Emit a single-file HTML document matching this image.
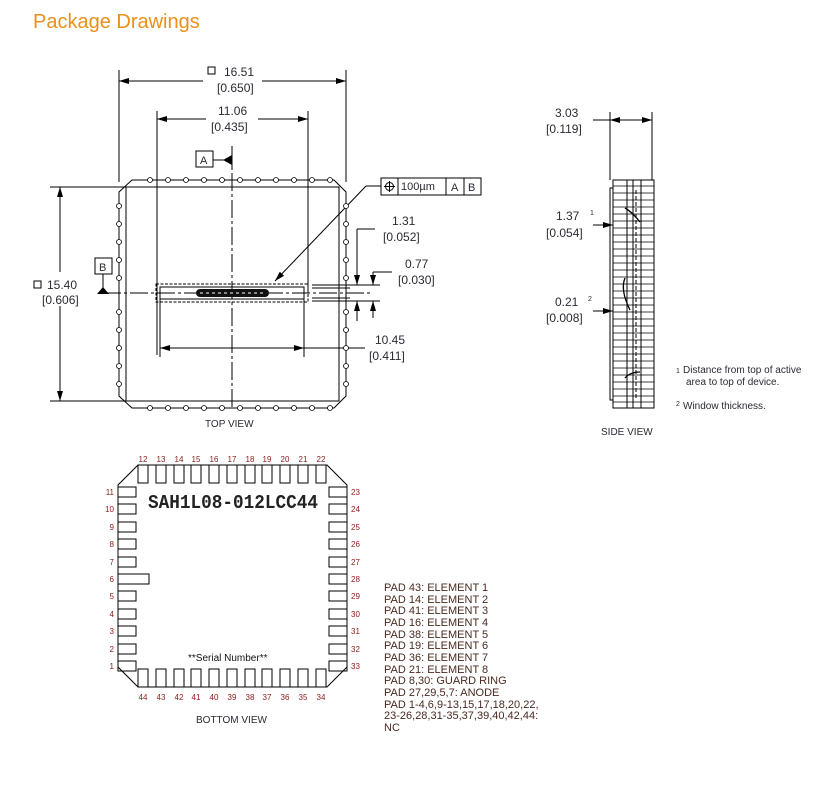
<!DOCTYPE html>
<html><head><meta charset="utf-8"><style>
html,body{margin:0;padding:0;background:#fff;width:821px;height:787px;overflow:hidden}
svg{display:block}
text{font-family:"Liberation Sans",sans-serif;fill:#2a2a33}
</style></head><body>
<svg width="821" height="787" viewBox="0 0 821 787" xmlns="http://www.w3.org/2000/svg">
<defs>
<marker id="ar" viewBox="0 0 10 6" refX="10" refY="3" markerWidth="10" markerHeight="6" orient="auto-start-reverse" markerUnits="userSpaceOnUse"><path d="M0,0 L10,3 L0,6z" fill="#000"/></marker>
</defs>
<text x="33" y="28" font-size="20" style="fill:#e8901a">Package Drawings</text>

<g stroke="#000" stroke-width="1" fill="none">
<line x1="119" y1="70" x2="119" y2="182"/><line x1="346" y1="70" x2="346" y2="182"/>
<line x1="119" y1="81" x2="203" y2="81" marker-start="url(#ar)"/><line x1="262" y1="81" x2="346" y2="81" marker-end="url(#ar)"/>
<line x1="157" y1="111" x2="157" y2="355"/><line x1="308" y1="111" x2="308" y2="290"/>
<line x1="157" y1="119" x2="206" y2="119" marker-start="url(#ar)"/><line x1="258" y1="119" x2="308" y2="119" marker-end="url(#ar)"/>
<path d="M132,180 L334,180 L346,192 L346,396 L334,408 L132,408 L119,396 L119,192 Z"/>
<rect x="126" y="187" width="213" height="214"/>
<line x1="50" y1="187" x2="126" y2="187"/><line x1="50" y1="401" x2="126" y2="401"/>
<line x1="60" y1="187" x2="60" y2="272" marker-start="url(#ar)"/><line x1="60" y1="306" x2="60" y2="401" marker-end="url(#ar)"/>
<line x1="232" y1="146" x2="232" y2="410" stroke-dasharray="18,3,3,3"/>
<line x1="103" y1="293" x2="370" y2="293" stroke-dasharray="18,3,3,3"/>
<rect x="196" y="151" width="17" height="16"/><line x1="213" y1="160" x2="224" y2="160"/>
<line x1="232" y1="152" x2="232" y2="168"/>
<rect x="95" y="258" width="17" height="16"/><line x1="103" y1="274" x2="103" y2="288"/>
<rect x="156" y="284" width="152" height="18" stroke-dasharray="3,1.5"/>
<rect x="160" y="287" width="144" height="12"/>
<line x1="160" y1="299" x2="160" y2="357"/><line x1="304" y1="299" x2="304" y2="357"/>
<line x1="160" y1="348" x2="304" y2="348" marker-start="url(#ar)" marker-end="url(#ar)"/>
<line x1="304" y1="348" x2="365" y2="348"/>
<rect x="381" y="178" width="100" height="17"/><line x1="398" y1="178" x2="398" y2="195"/><line x1="446" y1="178" x2="446" y2="195"/><line x1="464" y1="178" x2="464" y2="195"/>
<circle cx="389.5" cy="186.5" r="4"/><line x1="384" y1="186.5" x2="395" y2="186.5"/><line x1="389.5" y1="181" x2="389.5" y2="192"/>
<line x1="381" y1="186" x2="366" y2="186"/><line x1="366" y1="186" x2="275" y2="281" marker-end="url(#ar)"/>
<line x1="312" y1="285" x2="380" y2="285"/><line x1="312" y1="301" x2="380" y2="301"/>
<line x1="312" y1="288" x2="350" y2="288"/><line x1="312" y1="298" x2="350" y2="298"/>
<line x1="375" y1="229" x2="357" y2="229"/><line x1="357" y1="229" x2="357" y2="285" marker-end="url(#ar)"/>
<line x1="357" y1="321" x2="357" y2="301" marker-end="url(#ar)"/>
<line x1="392" y1="272" x2="373" y2="272"/><line x1="373" y1="272" x2="373" y2="285" marker-end="url(#ar)"/>
<line x1="373" y1="318" x2="373" y2="301" marker-end="url(#ar)"/>
</g>
<path d="M223,160 L232,155 L232,165Z" fill="#000"/>
<path d="M103,287 L97,294 L109,294Z" fill="#000"/>
<rect x="196" y="289" width="73" height="8" rx="4" fill="#111"/>
<g stroke="#fff" stroke-width="1"><line x1="200" y1="293" x2="265" y2="293" stroke-dasharray="3,3"/></g>
<g fill="#fff" stroke="#000" stroke-width="0.8">
<circle cx="150" cy="180" r="2.5"/><circle cx="168" cy="180" r="2.5"/><circle cx="186" cy="180" r="2.5"/><circle cx="204" cy="180" r="2.5"/><circle cx="222" cy="180" r="2.5"/><circle cx="240" cy="180" r="2.5"/><circle cx="258" cy="180" r="2.5"/><circle cx="276" cy="180" r="2.5"/><circle cx="294" cy="180" r="2.5"/><circle cx="312" cy="180" r="2.5"/><circle cx="330" cy="180" r="2.5"/>
<circle cx="150" cy="408" r="2.5"/><circle cx="168" cy="408" r="2.5"/><circle cx="186" cy="408" r="2.5"/><circle cx="204" cy="408" r="2.5"/><circle cx="222" cy="408" r="2.5"/><circle cx="240" cy="408" r="2.5"/><circle cx="258" cy="408" r="2.5"/><circle cx="276" cy="408" r="2.5"/><circle cx="294" cy="408" r="2.5"/><circle cx="312" cy="408" r="2.5"/><circle cx="330" cy="408" r="2.5"/>
<circle cx="119" cy="206" r="2.5"/><circle cx="119" cy="224" r="2.5"/><circle cx="119" cy="242" r="2.5"/><circle cx="119" cy="260" r="2.5"/><circle cx="119" cy="278" r="2.5"/><circle cx="119" cy="312" r="2.5"/><circle cx="119" cy="330" r="2.5"/><circle cx="119" cy="348" r="2.5"/><circle cx="119" cy="366" r="2.5"/><circle cx="119" cy="384" r="2.5"/>
<circle cx="346" cy="206" r="2.5"/><circle cx="346" cy="224" r="2.5"/><circle cx="346" cy="242" r="2.5"/><circle cx="346" cy="260" r="2.5"/><circle cx="346" cy="278" r="2.5"/><circle cx="346" cy="312" r="2.5"/><circle cx="346" cy="330" r="2.5"/><circle cx="346" cy="348" r="2.5"/><circle cx="346" cy="366" r="2.5"/><circle cx="346" cy="384" r="2.5"/>
</g>
<g fill="none" stroke="#000" stroke-width="1"><rect x="208" y="67" width="7" height="7"/><rect x="34" y="281" width="7" height="7"/></g>
<g font-size="12">
<text x="224" y="76">16.51</text><text x="217" y="92">[0.650]</text>
<text x="218" y="115">11.06</text><text x="211" y="131">[0.435]</text>
<text x="200" y="164" font-size="11">A</text><text x="99" y="271" font-size="11">B</text>
<text x="47" y="289">15.40</text><text x="42" y="304">[0.606]</text>
<text x="401" y="190" font-size="11">100µm</text><text x="451" y="191" font-size="11">A</text><text x="468" y="191" font-size="11">B</text>
<text x="392" y="225">1.31</text><text x="383" y="241">[0.052]</text>
<text x="405" y="268">0.77</text><text x="398" y="284">[0.030]</text>
<text x="375" y="344">10.45</text><text x="369" y="360">[0.411]</text>
<text x="205" y="427" font-size="10">TOP VIEW</text>
</g>

<g stroke="#000" stroke-width="1" fill="none">
<line x1="610" y1="112" x2="610" y2="180"/><line x1="652" y1="112" x2="652" y2="180"/>
<line x1="593" y1="120" x2="610" y2="120"/>
<line x1="610" y1="120" x2="631" y2="120" marker-start="url(#ar)"/><line x1="631" y1="120" x2="652" y2="120" marker-end="url(#ar)"/>
<rect x="613" y="180" width="41" height="228"/>
<path d="M613,188 L610,188 L610,400 L613,400"/>
<line x1="627" y1="180" x2="627" y2="408"/><line x1="633" y1="180" x2="633" y2="408"/><line x1="641" y1="180" x2="641" y2="408"/>
<line x1="636" y1="190" x2="636" y2="400" stroke-dasharray="4,2"/>
<g stroke-width="0.7">
<line x1="613" y1="186" x2="654" y2="186"/><line x1="613" y1="193" x2="654" y2="193"/><line x1="613" y1="200" x2="654" y2="200"/><line x1="613" y1="207" x2="654" y2="207"/><line x1="613" y1="214" x2="654" y2="214"/><line x1="613" y1="221" x2="654" y2="221"/><line x1="613" y1="228" x2="654" y2="228"/><line x1="613" y1="235" x2="654" y2="235"/><line x1="613" y1="242" x2="654" y2="242"/><line x1="613" y1="249" x2="654" y2="249"/><line x1="613" y1="256" x2="654" y2="256"/><line x1="613" y1="263" x2="654" y2="263"/><line x1="613" y1="270" x2="654" y2="270"/><line x1="613" y1="277" x2="654" y2="277"/><line x1="613" y1="284" x2="654" y2="284"/><line x1="613" y1="291" x2="654" y2="291"/><line x1="613" y1="298" x2="654" y2="298"/><line x1="613" y1="305" x2="654" y2="305"/><line x1="613" y1="312" x2="654" y2="312"/><line x1="613" y1="319" x2="654" y2="319"/><line x1="613" y1="326" x2="654" y2="326"/><line x1="613" y1="333" x2="654" y2="333"/><line x1="613" y1="340" x2="654" y2="340"/><line x1="613" y1="347" x2="654" y2="347"/><line x1="613" y1="354" x2="654" y2="354"/><line x1="613" y1="361" x2="654" y2="361"/><line x1="613" y1="368" x2="654" y2="368"/><line x1="613" y1="375" x2="654" y2="375"/><line x1="613" y1="382" x2="654" y2="382"/><line x1="613" y1="389" x2="654" y2="389"/><line x1="613" y1="396" x2="654" y2="396"/><line x1="613" y1="402" x2="654" y2="402"/>
</g>
<path d="M625,208 Q632,212 640,222" stroke-width="1.3"/><path d="M625,278 Q620,290 630,310" stroke-width="1.3"/><path d="M625,378 Q630,372 640,372" stroke-width="1.3"/>
<line x1="593" y1="225" x2="613" y2="225" marker-end="url(#ar)"/>
<line x1="593" y1="311" x2="613" y2="311" marker-end="url(#ar)"/>
</g>
<g font-size="12">
<text x="555" y="117">3.03</text><text x="546" y="133">[0.119]</text>
<text x="556" y="220">1.37</text><text x="590" y="215" font-size="7">1</text><text x="546" y="237">[0.054]</text>
<text x="555" y="306">0.21</text><text x="588" y="301" font-size="7">2</text><text x="546" y="322">[0.008]</text>
<text x="676" y="373" font-size="7">1</text><text x="683" y="373" font-size="10">Distance from top of active</text>
<text x="686" y="385" font-size="10">area to top of device.</text>
<text x="676" y="406" font-size="7">2</text><text x="683" y="409" font-size="10">Window thickness.</text>
<text x="601" y="435" font-size="10">SIDE VIEW</text>
</g>

<g stroke="#000" stroke-width="1" fill="none">
<path d="M138,465 L327,465 L347,485 L347,667 L327,687 L138,687 L118,667 L118,485 Z"/>
<g>
<rect x="138" y="465" width="10" height="18"/><rect x="156" y="465" width="10" height="18"/><rect x="174" y="465" width="10" height="18"/><rect x="191" y="465" width="10" height="18"/><rect x="209" y="465" width="10" height="18"/><rect x="227" y="465" width="10" height="18"/><rect x="245" y="465" width="10" height="18"/><rect x="262" y="465" width="10" height="18"/><rect x="280" y="465" width="10" height="18"/><rect x="298" y="465" width="10" height="18"/><rect x="316" y="465" width="10" height="18"/>
<rect x="138" y="669" width="10" height="18"/><rect x="156" y="669" width="10" height="18"/><rect x="174" y="669" width="10" height="18"/><rect x="191" y="669" width="10" height="18"/><rect x="209" y="669" width="10" height="18"/><rect x="227" y="669" width="10" height="18"/><rect x="245" y="669" width="10" height="18"/><rect x="262" y="669" width="10" height="18"/><rect x="280" y="669" width="10" height="18"/><rect x="298" y="669" width="10" height="18"/><rect x="316" y="669" width="10" height="18"/>
<rect x="118" y="487" width="18" height="10"/><rect x="118" y="504" width="18" height="10"/><rect x="118" y="522" width="18" height="10"/><rect x="118" y="539" width="18" height="10"/><rect x="118" y="557" width="18" height="10"/><rect x="118" y="574" width="31" height="10"/><rect x="118" y="591" width="18" height="10"/><rect x="118" y="609" width="18" height="10"/><rect x="118" y="626" width="18" height="10"/><rect x="118" y="644" width="18" height="10"/><rect x="118" y="661" width="18" height="10"/>
<rect x="329" y="487" width="18" height="10"/><rect x="329" y="504" width="18" height="10"/><rect x="329" y="522" width="18" height="10"/><rect x="329" y="539" width="18" height="10"/><rect x="329" y="557" width="18" height="10"/><rect x="329" y="574" width="18" height="10"/><rect x="329" y="591" width="18" height="10"/><rect x="329" y="609" width="18" height="10"/><rect x="329" y="626" width="18" height="10"/><rect x="329" y="644" width="18" height="10"/><rect x="329" y="661" width="18" height="10"/>
</g>
</g>
<text x="148" y="508" font-size="19" font-weight="bold" textLength="170" lengthAdjust="spacingAndGlyphs" style="font-family:'Liberation Mono',monospace;fill:#222">SAH1L08-012LCC44</text>
<text x="188" y="661" font-size="10" style="fill:#111">**Serial Number**</text>
<text x="196" y="723" font-size="10">BOTTOM VIEW</text>
<g font-size="8" text-anchor="middle">
<text x="143" y="462" style="fill:#8b1a1a">12</text><text x="161" y="462" style="fill:#8b1a1a">13</text><text x="179" y="462" style="fill:#8b1a1a">14</text><text x="196" y="462" style="fill:#8b1a1a">15</text><text x="214" y="462" style="fill:#8b1a1a">16</text><text x="232" y="462" style="fill:#8b1a1a">17</text><text x="250" y="462" style="fill:#8b1a1a">18</text><text x="267" y="462" style="fill:#8b1a1a">19</text><text x="285" y="462" style="fill:#8b1a1a">20</text><text x="303" y="462" style="fill:#8b1a1a">21</text><text x="321" y="462" style="fill:#8b1a1a">22</text>
<text x="143" y="700" style="fill:#8b1a1a">44</text><text x="161" y="700" style="fill:#8b1a1a">43</text><text x="179" y="700" style="fill:#8b1a1a">42</text><text x="196" y="700" style="fill:#8b1a1a">41</text><text x="214" y="700" style="fill:#8b1a1a">40</text><text x="232" y="700" style="fill:#8b1a1a">39</text><text x="250" y="700" style="fill:#8b1a1a">38</text><text x="267" y="700" style="fill:#8b1a1a">37</text><text x="285" y="700" style="fill:#8b1a1a">36</text><text x="303" y="700" style="fill:#8b1a1a">35</text><text x="321" y="700" style="fill:#8b1a1a">34</text>
</g>
<g font-size="8" text-anchor="end">
<text x="114" y="495" style="fill:#8b1a1a">11</text><text x="114" y="512" style="fill:#8b1a1a">10</text><text x="114" y="530" style="fill:#8b1a1a">9</text><text x="114" y="547" style="fill:#8b1a1a">8</text><text x="114" y="565" style="fill:#8b1a1a">7</text><text x="114" y="582" style="fill:#8b1a1a">6</text><text x="114" y="599" style="fill:#8b1a1a">5</text><text x="114" y="617" style="fill:#8b1a1a">4</text><text x="114" y="634" style="fill:#8b1a1a">3</text><text x="114" y="652" style="fill:#8b1a1a">2</text><text x="114" y="669" style="fill:#8b1a1a">1</text>
</g>
<g font-size="8">
<text x="351" y="495" style="fill:#8b1a1a">23</text><text x="351" y="512" style="fill:#8b1a1a">24</text><text x="351" y="530" style="fill:#8b1a1a">25</text><text x="351" y="547" style="fill:#8b1a1a">26</text><text x="351" y="565" style="fill:#8b1a1a">27</text><text x="351" y="582" style="fill:#8b1a1a">28</text><text x="351" y="599" style="fill:#8b1a1a">29</text><text x="351" y="617" style="fill:#8b1a1a">30</text><text x="351" y="634" style="fill:#8b1a1a">31</text><text x="351" y="652" style="fill:#8b1a1a">32</text><text x="351" y="669" style="fill:#8b1a1a">33</text>
</g>
<g font-size="11">
<text x="384" y="591" style="fill:#4a2a20">PAD 43: ELEMENT 1</text>
<text x="384" y="603" style="fill:#4a2a20">PAD 14: ELEMENT 2</text>
<text x="384" y="614" style="fill:#4a2a20">PAD 41: ELEMENT 3</text>
<text x="384" y="626" style="fill:#4a2a20">PAD 16: ELEMENT 4</text>
<text x="384" y="638" style="fill:#4a2a20">PAD 38: ELEMENT 5</text>
<text x="384" y="649" style="fill:#4a2a20">PAD 19: ELEMENT 6</text>
<text x="384" y="661" style="fill:#4a2a20">PAD 36: ELEMENT 7</text>
<text x="384" y="673" style="fill:#4a2a20">PAD 21: ELEMENT 8</text>
<text x="384" y="684" style="fill:#4a2a20">PAD 8,30: GUARD RING</text>
<text x="384" y="696" style="fill:#4a2a20">PAD 27,29,5,7: ANODE</text>
<text x="384" y="708" style="fill:#4a2a20">PAD 1-4,6,9-13,15,17,18,20,22,</text>
<text x="384" y="719" style="fill:#4a2a20">23-26,28,31-35,37,39,40,42,44:</text>
<text x="384" y="731" style="fill:#4a2a20">NC</text>
</g>
</svg>
</body></html>
